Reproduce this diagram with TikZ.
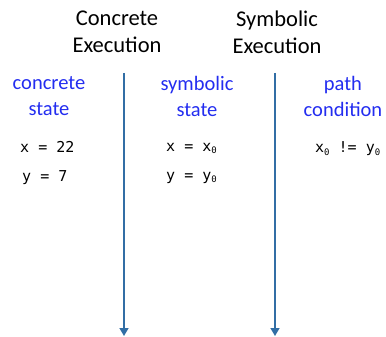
\documentclass[tikz,border=0pt]{standalone}
\usepackage{fontspec}
\setmainfont{Carlito}
\setmonofont{DejaVu Sans Mono}
\usetikzlibrary{arrows.meta}
\definecolor{lineblue}{RGB}{50,110,165}
\definecolor{labblue}{RGB}{35,45,240}
\newcommand{\zs}{\raisebox{-0.15em}{\fontsize{9}{9}\selectfont\ttfamily 0}}
\begin{document}
\begin{tikzpicture}[x=1pt,y=-1pt,
  title/.style={font=\fontsize{22.5}{27}\selectfont, align=center, text=black},
  lab/.style={font=\fontsize{20.5}{26}\selectfont, align=center, text=labblue},
  code/.style={font=\fontsize{15}{29}\selectfont\ttfamily, align=left, anchor=west, inner sep=0pt},
  timeline/.style={draw=lineblue, line width=1.6pt, -{Triangle[length=8pt,width=9pt]}}]
\useasboundingbox (0,0) rectangle (386,337);
\node[title] (ct) at (117,32) {Concrete\\Execution};
\node[title] (st) at (277,32) {Symbolic\\Execution};
\coordinate (a1s) at (124,73);
\coordinate (a1e) at (124,336);
\coordinate (a2s) at (275,73);
\coordinate (a2e) at (275,336);
\draw[timeline] (a1s) -- (a1e);
\draw[timeline] (a2s) -- (a2e);
\node[lab] (cs) at (49,96) {concrete\\state};
\node[lab] (ss) at (197,96) {symbolic\\state};
\node[lab] (pc) at (343,96) {path\\condition};
\node[code] (cv) at (20,163) {x = 22\\\hspace*{2pt}y = 7};
\node[code] (sv) at (166,163) {x = x\zs\\y = y\zs};
\node[code] (pv) at (315,149) {x\zs{} != y\zs};
\end{tikzpicture}
\end{document}
